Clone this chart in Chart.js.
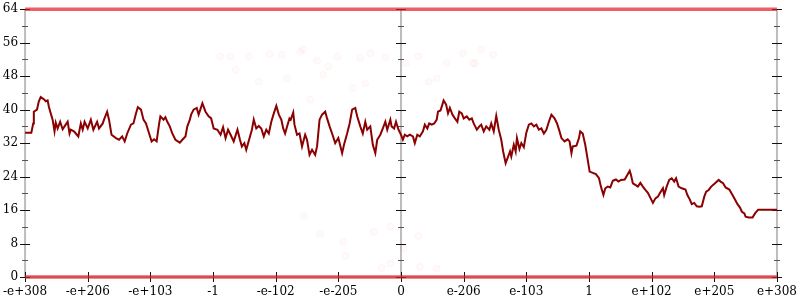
<!DOCTYPE html>
<html><head><meta charset="utf-8">
<script src="https://cdn.jsdelivr.net/npm/chart.js@4/dist/chart.umd.min.js"></script>
<style>html,body{margin:0;padding:0;background:#fff}#wrap{width:800px;height:300px}</style>
</head><body><div id="wrap"><canvas id="c" width="800" height="300"></canvas></div>
<script>
const tickLabels = ["-e+308","-e+206","-e+103","-1","-e-102","-e-205","0","e-206","e-103","1","e+102","e+205","e+308"];
const yTicks = [0, 8, 16, 24, 32, 40, 48, 56, 64];

const lineX = [0,0.10,0.13,0.14,0.19,0.22,0.25,0.30,0.33,0.36,0.38,0.41,0.44,0.47,0.49,0.52,0.56,0.60,0.63,0.68,0.71,0.73,0.78,0.81,0.85,0.89,0.92,0.95,1.00,1.05,1.09,1.15,1.18,1.24,1.26,1.31,1.34,1.38,1.45,1.50,1.55,1.59,1.63,1.69,1.73,1.77,1.80,1.85,1.89,1.93,1.98,2.02,2.06,2.10,2.14,2.16,2.21,2.24,2.27,2.31,2.35,2.40,2.47,2.51,2.56,2.59,2.63,2.65,2.69,2.74,2.77,2.83,2.85,2.88,2.93,2.97,3.01,3.07,3.12,3.16,3.20,3.24,3.28,3.33,3.39,3.43,3.46,3.50,3.53,3.59,3.62,3.65,3.69,3.73,3.77,3.81,3.85,3.89,3.93,3.97,4.01,4.05,4.09,4.12,4.15,4.19,4.22,4.24,4.28,4.30,4.34,4.38,4.42,4.47,4.50,4.54,4.58,4.63,4.66,4.70,4.74,4.79,4.82,4.86,4.90,4.95,5.00,5.06,5.09,5.14,5.18,5.22,5.27,5.30,5.35,5.39,5.43,5.46,5.51,5.55,5.59,5.62,5.67,5.71,5.75,5.78,5.83,5.85,5.89,5.92,5.96,6.00,6.03,6.06,6.10,6.14,6.19,6.22,6.26,6.30,6.35,6.38,6.42,6.45,6.49,6.53,6.57,6.59,6.63,6.66,6.68,6.72,6.75,6.78,6.82,6.86,6.90,6.93,6.97,7.00,7.05,7.09,7.13,7.16,7.21,7.25,7.28,7.32,7.36,7.41,7.44,7.48,7.52,7.56,7.60,7.63,7.67,7.71,7.74,7.76,7.80,7.83,7.85,7.89,7.92,7.96,8.00,8.04,8.08,8.12,8.16,8.20,8.24,8.28,8.32,8.36,8.40,8.45,8.49,8.53,8.56,8.61,8.66,8.69,8.72,8.74,8.80,8.84,8.86,8.90,8.94,8.98,9.01,9.06,9.11,9.16,9.19,9.23,9.26,9.30,9.34,9.38,9.43,9.47,9.51,9.57,9.60,9.65,9.67,9.70,9.74,9.78,9.82,9.86,9.90,9.94,9.97,10.02,10.06,10.10,10.13,10.18,10.20,10.24,10.28,10.32,10.36,10.39,10.43,10.48,10.54,10.57,10.61,10.64,10.68,10.72,10.76,10.80,10.84,10.87,10.91,10.95,10.98,11.02,11.07,11.10,11.14,11.18,11.24,11.29,11.33,11.37,11.41,11.44,11.48,11.50,11.55,11.61,11.65,11.70,12.00];
const lineY = [34.5,34.5,36.7,39.5,40,42,43,42.5,42,42.2,40.7,39.1,37.6,34.8,36.9,35.5,37.1,35.3,36,37.1,34.3,35.2,34.8,34.3,33.6,36.7,35.2,37.1,35.5,37.6,35.2,37.1,35.5,36.7,37.6,39.5,37.6,34,33.2,32.8,33.6,32.4,34.3,36.4,36.7,39.1,40.6,40,37.6,36.7,34.3,32.4,32.9,32.4,36.7,38.4,37.6,38.2,37.1,36,34.3,32.8,32.1,32.8,33.6,36,37.6,38.8,40,40.4,38.8,41.5,40.7,39.5,38.4,37.9,35.5,35.2,34,35.8,33.2,35.2,34,32.4,35.2,32.8,31.2,32,30.4,33.6,35.2,37.6,35.5,36.1,35.5,33.6,35.2,34.3,37.1,39.1,40.9,38.8,37.6,35.5,34.3,36.4,37.9,37.6,39.3,36.4,34,34.3,31.2,34,32.8,29.2,30.4,29.2,31.2,37.6,38.8,39.5,37.9,36,34.3,32,33.2,29.6,31.6,34.3,36.7,40,40.4,38.4,36,34.3,37.1,35.2,36,31.6,29.6,32.8,34,35.5,37.1,35.2,37.6,36,35.5,37.1,35.2,34,32.8,34,33.6,34,33.6,32,34,33.6,34.8,36.4,35.5,36.7,36.4,36.7,37.6,39.5,39.8,41.2,42.2,41.2,39.1,40.4,38.8,37.9,37.1,39.5,39.1,37.9,38.4,37.6,37.9,36.7,35.2,36,36.4,34.8,36,35.2,36.7,34.8,38.5,35.2,32.8,30,27.2,28.8,30,28.8,31.6,30,33.2,30.6,32,31,34.5,36.4,36.7,36,36.4,35.2,35.5,34.3,35.2,37.1,38.8,37.9,36.7,34.8,33.2,32.4,32.9,32.4,29.6,31.2,31.4,33.2,34.8,34.3,31.6,28,25.2,24.9,24.6,23.6,21.6,19.6,21.2,21.6,21.4,23,23.3,22.8,23.2,23.3,24.1,25.4,24.4,22.4,22,21.6,22.5,21.6,20.8,20.1,19.2,17.7,18.8,19.2,20,21.2,19.6,21.6,23.2,23.6,22.8,23.6,21.6,21.2,20.9,19.6,18.5,17.4,17.7,16.9,16.8,16.9,19.2,20.4,20.8,21.6,22,22.5,23.2,22.8,22.4,21.4,20.9,19.6,18.5,17.4,16.6,15.6,15.2,14.4,14.2,14.2,15.2,16.1,16.1];

const bandX = [0, 12];
const topBandY = [64, 64];
const bottomBandY = [0, 0];

const faintX = [3.12,3.28,3.36,3.57,3.73,3.90,4.10,4.18,4.39,4.44,4.55,4.66,4.76,4.84,4.98,5.23,5.35,5.43,5.51,5.75,6.08,6.28,6.44,6.57,6.73,6.99,7.15,7.18,7.28,7.47,4.45,4.71,5.08,5.11,5.56,5.69,5.83,5.83,6.04,6.28,6.30,6.57];
const faintY = [52.7,52.7,49.5,52.7,46.7,53.3,53.1,47.5,53.8,54.4,42.4,51.7,48.3,50.3,52.7,45.1,52.3,46.3,53.5,52.5,51.1,52.7,46.7,47.5,51.1,53.5,51.1,51.1,54.3,53.1,14.6,10.4,8.4,5.0,10.8,2.2,12.0,3.2,6.8,9.8,2.4,2.0];

const pts = (xs, ys) => xs.map((x, i) => ({x: x, y: ys[i]}));
const FONT = {family: "'DejaVu Serif', serif", size: 12};

const axisDecor = {
  id: 'axisDecor',
  beforeDatasetsDraw(chart) {
    const {ctx, chartArea: a, scales: {x, y}} = chart;
    ctx.save();
    const axisXs = [x.getPixelForValue(0), x.getPixelForValue(6), x.getPixelForValue(12)];
    ctx.strokeStyle = '#bdbdbd';
    ctx.lineWidth = 2;
    axisXs.forEach(px => { ctx.beginPath(); ctx.moveTo(px, a.top); ctx.lineTo(px, a.bottom); ctx.stroke(); });
    ctx.beginPath(); ctx.moveTo(a.left, a.bottom); ctx.lineTo(a.right, a.bottom); ctx.stroke();
    ctx.lineWidth = 1;
    axisXs.forEach(px => {
      for (let v = 0; v <= 64; v += 4) {
        const py = Math.round(y.getPixelForValue(v)) + 0.5;
        const major = v % 8 === 0;
        ctx.strokeStyle = major ? '#111' : '#555';
        const len = major ? 5 : 3;
        ctx.beginPath(); ctx.moveTo(px - len, py); ctx.lineTo(px + len, py); ctx.stroke();
      }
    });
    ctx.strokeStyle = '#111';
    for (let i = 0; i < tickLabels.length; i++) {
      const px = Math.round(x.getPixelForValue(i)) + 0.5;
      ctx.beginPath(); ctx.moveTo(px, a.bottom - 5); ctx.lineTo(px, a.bottom + 5); ctx.stroke();
    }
    ctx.restore();
  }
};

new Chart(document.getElementById('c'), {
  data: {
    datasets: [
      {type: 'scatter', data: pts(faintX, faintY), backgroundColor: 'rgba(240,40,50,0.025)', borderColor: 'rgba(240,40,50,0.04)', pointRadius: 3.5, borderWidth: 1, order: 3},
      {type: 'line', data: pts(bandX, topBandY), borderColor: 'rgba(225,30,40,0.7)', borderWidth: 3.5, pointRadius: 0, clip: false, order: 2},
      {type: 'line', data: pts(bandX, bottomBandY), borderColor: 'rgba(225,30,40,0.7)', borderWidth: 3.5, pointRadius: 0, clip: false, order: 2},
      {type: 'line', data: pts(lineX, lineY), borderColor: '#8b0000', borderWidth: 2, pointRadius: 0, tension: 0, order: 1}
    ]
  },
  options: {
    responsive: false,
    animation: false,
    devicePixelRatio: 1,
    layout: {padding: {left: 0, right: 22, top: 8, bottom: 0}},
    plugins: {legend: {display: false}, tooltip: {enabled: false}},
    scales: {
      x: {
        type: 'linear', min: 0, max: 12,
        afterBuildTicks: s => { s.ticks = tickLabels.map((_, i) => ({value: i})); },
        afterFit: s => { s.height = 23; },
        ticks: {autoSkip: false, maxRotation: 0, color: '#000', font: FONT, padding: 3, callback: v => tickLabels[Math.round(v)]},
        grid: {drawOnChartArea: false, drawTicks: true, tickLength: 5, tickColor: 'rgba(0,0,0,0)'},
        border: {display: false}
      },
      y: {
        min: 0, max: 64,
        afterBuildTicks: s => { s.ticks = yTicks.map(v => ({value: v})); },
        afterFit: s => { s.width = 24; },
        ticks: {color: '#000', font: FONT, padding: 2},
        grid: {drawOnChartArea: false, drawTicks: true, tickLength: 5, tickColor: 'rgba(0,0,0,0)'},
        border: {display: false}
      }
    }
  },
  plugins: [axisDecor]
});
</script>
</body></html>
